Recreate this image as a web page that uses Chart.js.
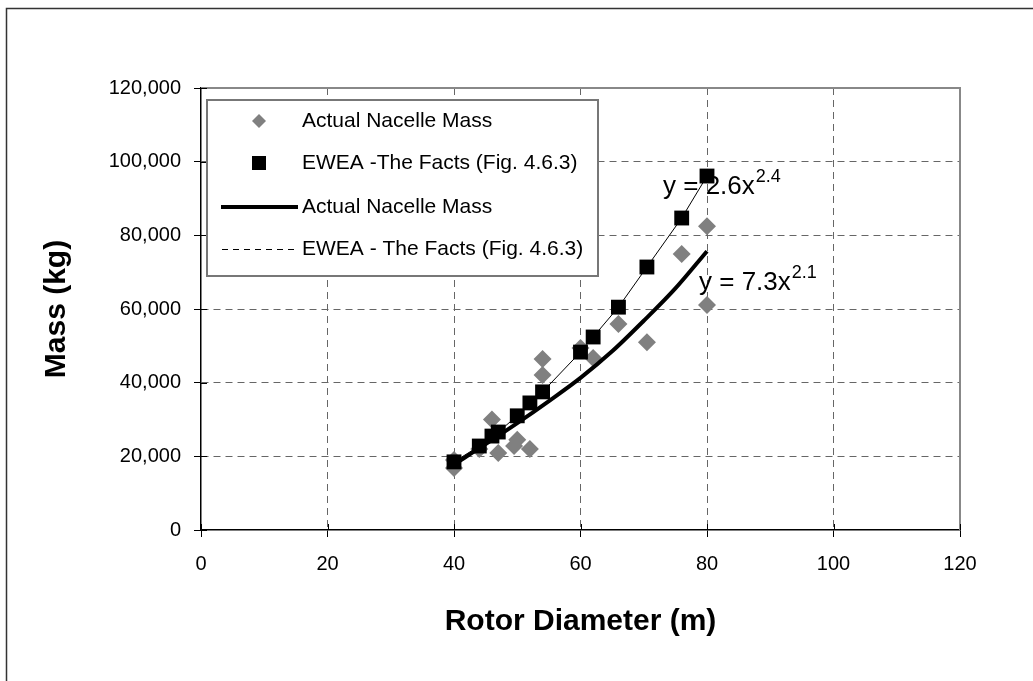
<!DOCTYPE html>
<html>
<head>
<meta charset="utf-8">
<title>Nacelle Mass vs Rotor Diameter</title>
<script src="https://cdn.jsdelivr.net/npm/chart.js@4/dist/chart.umd.min.js"></script>
<style>
    html, body { margin: 0; padding: 0; background: #fff; }
    #wrap { width: 1033px; height: 681px; }
</style>
</head>
<body>
<div id="wrap"><canvas id="massChart" width="1033" height="681"></canvas></div>
<script>
// --- Data ---
const actualDiameter = [40, 40, 44, 46, 47, 49.5, 50, 52, 54, 54, 60, 62, 66, 70.5, 76, 80, 80];
const actualMass = [16800, 19000, 22000, 30000, 20900, 22800, 24500, 22000, 46400, 42100, 49400, 46700, 55900, 51000, 74900, 82500, 61100];

const eweaDiameter = [40, 44, 46, 47, 50, 52, 54, 60, 62, 66, 70.5, 76, 80];
const eweaMass = [18500, 22800, 25500, 26600, 31000, 34500, 37500, 48300, 52400, 60500, 71400, 84700, 96100];

// trend line of the actual masses
const trendDiameter = [40, 45, 50, 55, 60, 65, 70, 75, 80];
const trendMass = [17800, 23300, 29000, 35000, 41300, 48500, 56800, 65600, 75700];

const xTicks = [0, 20, 40, 60, 80, 100, 120];
const yTicks = [0, 20000, 40000, 60000, 80000, 100000, 120000];

const legendLabels = [
    'Actual Nacelle Mass',
    'EWEA -The Facts (Fig. 4.6.3)',
    'Actual Nacelle Mass',
    'EWEA - The Facts (Fig. 4.6.3)'
];
const fitLabels = [
    { base: 'y = 2.6x', exp: '2.4' },
    { base: 'y = 7.3x', exp: '2.1' }
];

// --- Helpers ---
const toPoints = (xs, ys) => xs.map((x, i) => ({ x: x, y: ys[i] }));
const FONT = '"Liberation Sans", Arial, sans-serif';
const GRAY = '#808080';

// --- Plugin: frame, inner ticks, legend box, equations ---
const decorPlugin = {
    id: 'decor',
    beforeDraw(chart) {
        const ctx = chart.ctx;
        ctx.save();
        ctx.fillStyle = '#fff';
        ctx.fillRect(0, 0, chart.width, chart.height);
        ctx.strokeStyle = '#333';
        ctx.lineWidth = 1.5;
        ctx.strokeRect(6.5, 8.5, chart.width + 20, chart.height + 20);
        ctx.restore();
    },
    beforeDatasetsDraw(chart) {
        const ctx = chart.ctx;
        const area = chart.chartArea;
        const xs = chart.scales.x;
        const ys = chart.scales.y;
        ctx.save();
        // gray top / right border of the plot area
        ctx.strokeStyle = '#888';
        ctx.lineWidth = 2;
        ctx.beginPath();
        ctx.moveTo(area.left, area.top);
        ctx.lineTo(area.right, area.top);
        ctx.lineTo(area.right, area.bottom);
        ctx.stroke();
        // tick marks crossing into the plot
        ctx.strokeStyle = '#000';
        ctx.lineWidth = 1;
        xTicks.forEach(v => {
            const px = Math.round(xs.getPixelForValue(v)) + 0.5;
            ctx.beginPath();
            ctx.moveTo(px, area.bottom);
            ctx.lineTo(px, area.bottom - 6);
            ctx.stroke();
        });
        yTicks.forEach(v => {
            const py = Math.round(ys.getPixelForValue(v)) + 0.5;
            ctx.beginPath();
            ctx.moveTo(area.left, py);
            ctx.lineTo(area.left + 6, py);
            ctx.stroke();
        });
        ctx.restore();
    },
    afterDraw(chart) {
        const ctx = chart.ctx;
        ctx.save();

        // legend box
        const box = { left: 207, top: 100, right: 598, bottom: 276 };
        ctx.fillStyle = '#fff';
        ctx.fillRect(box.left, box.top, box.right - box.left, box.bottom - box.top);
        ctx.strokeStyle = '#777';
        ctx.lineWidth = 2;
        ctx.strokeRect(box.left, box.top, box.right - box.left, box.bottom - box.top);

        const rows = [121, 163, 207, 249];
        const markX = 259;

        // diamond
        ctx.fillStyle = GRAY;
        ctx.beginPath();
        ctx.moveTo(markX - 7, rows[0]);
        ctx.lineTo(markX, rows[0] - 7);
        ctx.lineTo(markX + 7, rows[0]);
        ctx.lineTo(markX, rows[0] + 7);
        ctx.closePath();
        ctx.fill();
        // square
        ctx.fillStyle = '#000';
        ctx.fillRect(markX - 7, rows[1] - 7, 14, 14);
        // thick line
        ctx.strokeStyle = '#000';
        ctx.lineWidth = 4;
        ctx.beginPath();
        ctx.moveTo(221, rows[2]);
        ctx.lineTo(298, rows[2]);
        ctx.stroke();
        // dashed line
        ctx.lineWidth = 1;
        ctx.setLineDash([6, 5]);
        ctx.beginPath();
        ctx.moveTo(222, rows[3] + 0.5);
        ctx.lineTo(296, rows[3] + 0.5);
        ctx.stroke();
        ctx.setLineDash([]);

        ctx.fillStyle = '#000';
        ctx.font = '21px ' + FONT;
        ctx.textBaseline = 'middle';
        ctx.textAlign = 'left';
        legendLabels.forEach((t, i) => ctx.fillText(t, 302, rows[i]));

        // fitted equations
        const eqPos = [{ x: 663, y: 194 }, { x: 699, y: 290 }];
        ctx.textBaseline = 'alphabetic';
        fitLabels.forEach((f, i) => {
            ctx.font = '26px ' + FONT;
            ctx.fillText(f.base, eqPos[i].x, eqPos[i].y);
            const w = ctx.measureText(f.base).width;
            ctx.font = '18px ' + FONT;
            ctx.fillText(f.exp, eqPos[i].x + w + 1, eqPos[i].y - 12);
        });

        ctx.restore();
    }
};

// --- Chart ---
const ctx = document.getElementById('massChart').getContext('2d');

const massChart = new Chart(ctx, {
    type: 'scatter',
    data: {
        datasets: [
            {
                label: legendLabels[0],
                data: toPoints(actualDiameter, actualMass),
                pointStyle: 'rectRot',
                pointRadius: 9,
                backgroundColor: GRAY,
                borderColor: GRAY,
                borderWidth: 0,
                showLine: false,
                order: 3
            },
            {
                label: legendLabels[1],
                data: toPoints(eweaDiameter, eweaMass),
                pointStyle: 'rect',
                pointRadius: 10.5,
                backgroundColor: '#000',
                borderColor: '#000',
                borderWidth: 0,
                showLine: false,
                order: 0
            },
            {
                label: legendLabels[2],
                data: toPoints(trendDiameter, trendMass),
                showLine: true,
                borderColor: '#000',
                borderWidth: 4,
                pointRadius: 0,
                cubicInterpolationMode: 'monotone',
                order: 2
            },
            {
                label: legendLabels[3],
                data: toPoints(eweaDiameter, eweaMass),
                showLine: true,
                borderColor: '#000',
                borderWidth: 1,
                pointRadius: 0,
                order: 1
            }
        ]
    },
    options: {
        responsive: false,
        animation: false,
        events: [],
        layout: { padding: { left: 0, top: 88, right: 73, bottom: 0 } },
        plugins: {
            legend: { display: false },
            tooltip: { enabled: false }
        },
        scales: {
            x: {
                type: 'linear',
                min: 0,
                max: 120,
                afterBuildTicks: axis => { axis.ticks = xTicks.map(v => ({ value: v })); },
                afterFit: axis => { axis.height = 151; },
                ticks: {
                    color: '#000',
                    font: { family: FONT, size: 20 },
                    padding: 15,
                    maxRotation: 0
                },
                grid: {
                    color: c => (c.tick && (c.tick.value === 0 || c.tick.value === 120)) ? 'rgba(0,0,0,0)' : '#666',
                    lineWidth: 1,
                    tickColor: '#000',
                    tickLength: 7,
                    tickBorderDash: []
                },
                border: { display: true, color: '#000', width: 1.5, dash: [7, 5] },
                title: {
                    display: true,
                    text: 'Rotor Diameter (m)',
                    color: '#000',
                    font: { family: FONT, size: 30, weight: 'bold' },
                    padding: { top: 0, bottom: 41 }
                }
            },
            y: {
                type: 'linear',
                min: 0,
                max: 120000,
                afterBuildTicks: axis => { axis.ticks = yTicks.map(v => ({ value: v })); },
                afterFit: axis => { axis.width = 201; },
                ticks: {
                    color: '#000',
                    font: { family: FONT, size: 20 },
                    padding: 13,
                    callback: v => v.toLocaleString('en-US')
                },
                grid: {
                    color: c => (c.tick && (c.tick.value === 0 || c.tick.value === 120000)) ? 'rgba(0,0,0,0)' : '#666',
                    lineWidth: 1,
                    tickColor: '#000',
                    tickLength: 7,
                    tickBorderDash: []
                },
                border: { display: true, color: '#000', width: 1.5, dash: [7, 5] },
                title: {
                    display: true,
                    text: 'Mass (kg)',
                    color: '#000',
                    font: { family: FONT, size: 30, weight: 'bold' },
                    padding: { top: 39, bottom: 0 }
                }
            }
        }
    },
    plugins: [decorPlugin]
});
</script>
</body>
</html>
